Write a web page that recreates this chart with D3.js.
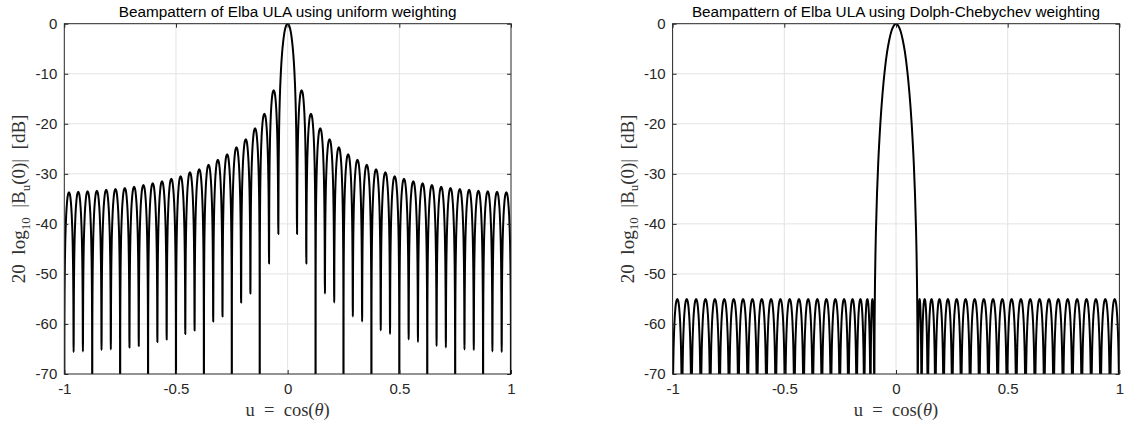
<!DOCTYPE html>
<html><head><meta charset="utf-8">
<script src="https://cdn.jsdelivr.net/npm/d3@7"></script>
<style>body{margin:0;background:#fff}svg{display:block}</style>
</head><body><svg id="c" width="1129" height="425"></svg>
<script>
// ---------------- data ----------------
const uTicks = [-1, -0.5, 0, 0.5, 1];
const uTickLabels = ["-1", "-0.5", "0", "0.5", "1"];
const dbTicks = [0, -10, -20, -30, -40, -50, -60, -70];
const dbTickLabels = ["0", "-10", "-20", "-30", "-40", "-50", "-60", "-70"];
const titles = ["Beampattern of Elba ULA using uniform weighting",
                "Beampattern of Elba ULA using Dolph-Chebychev weighting"];

// Uniform weighting: nulls left of main lobe (u, dB), sidelobe peaks (dB)
const uniLeftNullsU = [-1, -0.9583, -0.9167, -0.875, -0.8333, -0.7917, -0.75, -0.7083, -0.6667, -0.625, -0.5833, -0.5417,
  -0.5, -0.4583, -0.4167, -0.375, -0.3333, -0.2917, -0.25, -0.2083, -0.1667, -0.125, -0.0833, -0.0417];
const uniLeftNullsDb = [-120, -65.6, -65.5, -120, -65.2, -65.1, -120, -64.7, -64.4, -120, -63.6, -63.1,
  -120, -62.0, -61.3, -120, -59.5, -58.5, -120, -55.7, -53.9, -120, -47.9, -42.0];
const uniLeftPeaksDb = [-33.7, -33.6, -33.5, -33.4, -33.2, -33.05, -32.85, -32.6, -32.25, -31.9, -31.5, -31.0,
  -30.5, -29.7, -29.1, -28.2, -27.2, -26.1, -24.7, -23.1, -20.9, -18.0, -13.3];
const uniMainU = [-0.041, -0.0405, -0.04, -0.038, -0.035, -0.03, -0.025, -0.02, -0.015, -0.01, -0.005, 0,
  0.005, 0.01, 0.015, 0.02, 0.025, 0.03, 0.035, 0.038, 0.04, 0.0405, 0.041];
const uniMainDb = [-35.8, -30.8, -27.6, -20.4, -14.8, -9.35, -5.9, -3.6, -1.9, -0.8, -0.2, 0,
  -0.2, -0.8, -1.9, -3.6, -5.9, -9.35, -14.8, -20.4, -27.6, -30.8, -35.8];
const uniRightNullsU = [0.0417, 0.0833, 0.125, 0.1667, 0.2083, 0.25, 0.2917, 0.3333, 0.375, 0.4167, 0.4583, 0.5,
  0.5417, 0.5833, 0.625, 0.6667, 0.7083, 0.75, 0.7917, 0.8333, 0.875, 0.9167, 0.9583, 1];
const uniRightNullsDb = [-42.0, -47.9, -120, -53.9, -55.7, -120, -58.5, -59.5, -120, -61.3, -62.0, -120,
  -63.1, -63.6, -120, -64.4, -64.7, -120, -65.1, -65.2, -120, -65.5, -65.6, -120];
const uniRightPeaksDb = [-13.3, -18.0, -20.9, -23.1, -24.7, -26.1, -27.2, -28.2, -29.1, -29.7, -30.5, -31.0,
  -31.5, -31.9, -32.25, -32.6, -32.85, -33.05, -33.2, -33.4, -33.5, -33.6, -33.7];

// Dolph-Chebychev weighting
const chebLeftNullsU = [-1, -0.9579, -0.9158, -0.8738, -0.8317, -0.7897, -0.7475, -0.7055, -0.6636, -0.6218, -0.58, -0.5383,
  -0.4966, -0.4551, -0.4137, -0.3726, -0.3318, -0.2914, -0.2517, -0.2131, -0.1761, -0.1422, -0.1142, -0.0971];
const chebLeftNullsDb = [-120, -120, -120, -120, -120, -120, -120, -120, -120, -120, -120, -120,
  -120, -120, -120, -120, -120, -120, -120, -120, -120, -120, -120, -120];
const chebLeftPeaksDb = [-55, -55, -55, -55, -55, -55, -55, -55, -55, -55, -55, -55,
  -55, -55, -55, -55, -55, -55, -55, -55, -55, -55, -55];
const chebMainU = [-0.0965, -0.0955, -0.094, -0.092, -0.09, -0.085, -0.08, -0.07, -0.06, -0.05, -0.04, -0.03, -0.02, -0.01, 0,
  0.01, 0.02, 0.03, 0.04, 0.05, 0.06, 0.07, 0.08, 0.085, 0.09, 0.092, 0.094, 0.0955, 0.0965];
const chebMainDb = [-67.6, -58.6, -51.8, -46.0, -41.7, -34.0, -28.3, -19.9, -13.8, -9.2, -5.7, -3.2, -1.4, -0.4, 0,
  -0.4, -1.4, -3.2, -5.7, -9.2, -13.8, -19.9, -28.3, -34.0, -41.7, -46.0, -51.8, -58.6, -67.6];
const chebRightNullsU = [0.0971, 0.1142, 0.1422, 0.1761, 0.2131, 0.2517, 0.2914, 0.3318, 0.3726, 0.4137, 0.4551, 0.4966,
  0.5383, 0.58, 0.6218, 0.6636, 0.7055, 0.7475, 0.7897, 0.8317, 0.8738, 0.9158, 0.9579, 1];
const chebRightNullsDb = [-120, -120, -120, -120, -120, -120, -120, -120, -120, -120, -120, -120,
  -120, -120, -120, -120, -120, -120, -120, -120, -120, -120, -120, -120];
const chebRightPeaksDb = [-55, -55, -55, -55, -55, -55, -55, -55, -55, -55, -55, -55,
  -55, -55, -55, -55, -55, -55, -55, -55, -55, -55, -55];

// outline of one sidelobe (fraction of lobe width from a null, drop below the lobe peak in dB)
const lobeShapeT = [0.01, 0.02, 0.03, 0.05, 0.07, 0.1, 0.15, 0.2, 0.3, 0.4, 0.5];
const lobeShapeDb = [-30.1, -24.0, -20.5, -16.1, -13.3, -10.2, -6.9, -4.6, -1.8, -0.4, 0];

// ---------------- drawing ----------------
const svg = d3.select("#c");
const plotTop = 23.7, plotBottom = 374;
const panels = [
  {x0: 64.3, x1: 511, title: titles[0],
   series: [uniLeftNullsU, uniLeftNullsDb, uniLeftPeaksDb, uniMainU, uniMainDb, uniRightNullsU, uniRightNullsDb, uniRightPeaksDb]},
  {x0: 672.6, x1: 1119.4, title: titles[1],
   series: [chebLeftNullsU, chebLeftNullsDb, chebLeftPeaksDb, chebMainU, chebMainDb, chebRightNullsU, chebRightNullsDb, chebRightPeaksDb]}
];

function buildPoints(lnU, lnD, lp, mU, mD, rnU, rnD, rp) {
  const pts = [];
  function lobes(nU, nD, peaks) {
    for (let i = 0; i < peaks.length; i++) {
      const a = nU[i], b = nU[i + 1];
      pts.push([a, nD[i]]);
      for (let j = 0; j < lobeShapeT.length; j++)
        pts.push([a + lobeShapeT[j] * (b - a), Math.max(peaks[i] + lobeShapeDb[j], nD[i])]);
      for (let j = lobeShapeT.length - 2; j >= 0; j--)
        pts.push([a + (1 - lobeShapeT[j]) * (b - a), Math.max(peaks[i] + lobeShapeDb[j], nD[i + 1])]);
    }
    pts.push([nU[nU.length - 1], nD[nD.length - 1]]);
  }
  lobes(lnU, lnD, lp);
  mU.forEach((u, i) => pts.push([u, mD[i]]));
  lobes(rnU, rnD, rp);
  return pts;
}

const fontSans = "'Liberation Sans', Arial, Helvetica, sans-serif";
const fontSerif = "'Liberation Serif', 'DejaVu Serif', serif";
const ink = "#262626";

panels.forEach((p, pi) => {
  const x = d3.scaleLinear().domain([-1, 1]).range([p.x0, p.x1]);
  const y = d3.scaleLinear().domain([-70, 0]).range([plotBottom, plotTop]);
  const g = svg.append("g");

  // grid
  g.append("g").selectAll("line").data(uTicks.slice(1, -1)).join("line")
    .attr("x1", d => x(d)).attr("x2", d => x(d)).attr("y1", plotTop).attr("y2", plotBottom)
    .attr("stroke", "#e3e3e3").attr("stroke-width", 1);
  g.append("g").selectAll("line").data(dbTicks.slice(1, -1)).join("line")
    .attr("y1", d => y(d)).attr("y2", d => y(d)).attr("x1", p.x0).attr("x2", p.x1)
    .attr("stroke", "#e3e3e3").attr("stroke-width", 1);

  // curve
  const clipId = "clip" + pi;
  svg.append("clipPath").attr("id", clipId).append("rect")
    .attr("x", p.x0).attr("y", plotTop).attr("width", p.x1 - p.x0).attr("height", plotBottom - plotTop);
  const pts = buildPoints(...p.series);
  const line = d3.line().x(d => x(d[0])).y(d => y(d[1])).curve(d3.curveMonotoneX);
  g.append("path").attr("d", line(pts)).attr("clip-path", `url(#${clipId})`)
    .attr("fill", "none").attr("stroke", "#000").attr("stroke-width", 2).attr("stroke-linejoin", "round");

  // axes (inward ticks, all four sides)
  const ax = (gen, tr) => {
    const a = g.append("g").attr("transform", tr).call(gen);
    a.select(".domain").remove();
    a.selectAll("line").attr("stroke", ink);
    a.selectAll("text").attr("fill", ink).style("font-family", fontSans).style("font-size", "15px");
    return a;
  };
  ax(d3.axisBottom(x).tickValues(uTicks).tickFormat((d, i) => uTickLabels[i]).tickSize(-4).tickPadding(9),
     `translate(0,${plotBottom})`);
  ax(d3.axisTop(x).tickValues(uTicks).tickFormat("").tickSize(-4), `translate(0,${plotTop})`);
  ax(d3.axisLeft(y).tickValues(dbTicks).tickFormat((d, i) => dbTickLabels[i]).tickSize(-4).tickPadding(7),
     `translate(${p.x0},0)`);
  ax(d3.axisRight(y).tickValues(dbTicks).tickFormat("").tickSize(-4), `translate(${p.x1},0)`);

  g.append("rect").attr("x", p.x0).attr("y", plotTop).attr("width", p.x1 - p.x0).attr("height", plotBottom - plotTop)
    .attr("fill", "none").attr("stroke", ink).attr("stroke-width", 1);

  // title
  g.append("text").attr("x", (p.x0 + p.x1) / 2).attr("y", 17.3).attr("text-anchor", "middle")
    .style("font-family", fontSans).style("font-size", "15.3px").attr("fill", "#000").text(p.title);

  // x label
  const xl = g.append("text").attr("x", (p.x0 + p.x1) / 2).attr("y", 416).attr("text-anchor", "middle")
    .style("font-family", fontSerif).style("font-size", "18.5px").attr("fill", "#333")
    .attr("xml:space", "preserve");
  xl.append("tspan").text("u  =  cos(");
  xl.append("tspan").style("font-style", "italic").text("θ");
  xl.append("tspan").text(")");

  // y label
  const yl = g.append("text").attr("transform", `translate(${p.x0 - 39},${(plotTop + plotBottom) / 2}) rotate(-90)`)
    .attr("text-anchor", "middle").style("font-family", fontSerif).style("font-size", "19px").attr("fill", "#333")
    .attr("xml:space", "preserve");
  yl.append("tspan").text("20  log");
  yl.append("tspan").attr("dy", 4.5).style("font-size", "13px").text("10");
  yl.append("tspan").attr("dy", -4.5).text("  |B");
  yl.append("tspan").attr("dy", 4.5).style("font-size", "13px").text("u");
  yl.append("tspan").attr("dy", -4.5).text("(0)|  [dB]");
});
</script></body></html>
